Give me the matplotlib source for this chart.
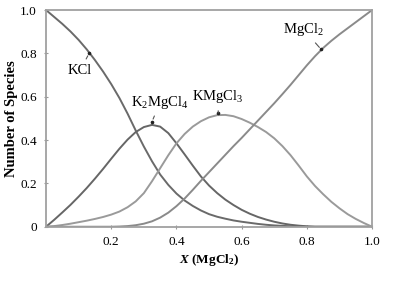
import matplotlib
matplotlib.use("Agg")
import matplotlib.pyplot as plt

plt.rcParams['font.family'] = ['Liberation Serif', 'DejaVu Serif']
plt.rcParams['mathtext.fontset'] = 'custom'
plt.rcParams['mathtext.rm'] = 'Liberation Serif'
plt.rcParams['mathtext.it'] = 'Liberation Serif:italic'
plt.rcParams['mathtext.bf'] = 'Liberation Serif:bold'
plt.rcParams['mathtext.bfit'] = 'Liberation Serif:bold:italic'

x_mgcl2 = [0.0, 0.025, 0.05, 0.075, 0.1, 0.125, 0.15, 0.175, 0.2, 0.225,
           0.25, 0.275, 0.3, 0.325, 0.35, 0.375, 0.4, 0.425, 0.45, 0.475,
           0.5, 0.525, 0.55, 0.575, 0.6, 0.625, 0.65, 0.675, 0.7, 0.725,
           0.75, 0.775, 0.8, 0.825, 0.85, 0.875, 0.9, 0.925, 0.95, 0.975, 1.0]

kcl = [1.0, 0.968, 0.936, 0.901, 0.862, 0.818, 0.769, 0.716, 0.658, 0.594,
       0.522, 0.444, 0.370, 0.302, 0.241, 0.193, 0.153, 0.121, 0.096, 0.075,
       0.058, 0.046, 0.037, 0.029, 0.023, 0.018, 0.013, 0.009, 0.006, 0.004,
       0.002, 0.001, 0.0, 0.0, 0.0, 0.0, 0.0, 0.0, 0.0, 0.0, 0.0]

k2mgcl4 = [0.0, 0.032, 0.066, 0.101, 0.139, 0.179, 0.222, 0.267, 0.314, 0.36,
           0.402, 0.437, 0.460, 0.470, 0.462, 0.432, 0.385, 0.334, 0.282, 0.232,
           0.19, 0.155, 0.125, 0.10, 0.078, 0.06, 0.045, 0.033, 0.023, 0.015,
           0.009, 0.005, 0.002, 0.0, 0.0, 0.0, 0.0, 0.0, 0.0, 0.0, 0.0]

kmgcl3 = [0.0, 0.003, 0.008, 0.014, 0.021, 0.028, 0.036, 0.045, 0.056, 0.07,
          0.09, 0.117, 0.155, 0.21, 0.27, 0.33, 0.385, 0.428, 0.462, 0.487,
          0.505, 0.515, 0.516, 0.51, 0.497, 0.48, 0.46, 0.437, 0.408, 0.372,
          0.33, 0.282, 0.232, 0.188, 0.15, 0.115, 0.085, 0.058, 0.036, 0.017, 0.0]

mgcl2 = [0.0, 0.0, 0.0, 0.0, 0.0, 0.0, 0.0, 0.0, 0.0, 0.001,
         0.003, 0.007, 0.014, 0.025, 0.042, 0.065, 0.095, 0.13, 0.17, 0.212,
         0.252, 0.292, 0.332, 0.372, 0.41, 0.45, 0.49, 0.53, 0.57, 0.612,
         0.655, 0.70, 0.745, 0.787, 0.825, 0.858, 0.888, 0.916, 0.944, 0.972, 1.0]

yticks = [0, 0.2, 0.4, 0.6, 0.8, 1.0]
ytick_labels = ['0', '0.2', '0.4', '0.6', '0.8', '1.0']
xticks = [0.2, 0.4, 0.6, 0.8, 1.0]
xtick_labels = ['0.2', '0.4', '0.6', '0.8', '1.0']

fig = plt.figure(figsize=(4.04, 2.87), dpi=100)
ax = fig.add_axes([0.114, 0.21, 0.807, 0.755])

line_kw = dict(lw=1.4, solid_joinstyle='round', solid_capstyle='round')
ax.plot(x_mgcl2, kcl, color='#6a6a6a', **line_kw)
ax.plot(x_mgcl2, k2mgcl4, color='#666666', **line_kw)
ax.plot(x_mgcl2, kmgcl3, color='#9a9a9a', **line_kw)
ax.plot(x_mgcl2, mgcl2, color='#8a8a8a', **line_kw)

ax.set_xlim(0, 1)
ax.set_ylim(0, 1)
ax.set_xticks(xticks)
ax.set_xticklabels(xtick_labels)
ax.set_yticks(yticks)
ax.set_yticklabels(ytick_labels)
ax.tick_params(direction='inout', length=3, width=0.8, color='#999999',
               labelsize=9.5, pad=5)
for s in ax.spines.values():
    s.set_color('#a0a0a0')
    s.set_linewidth(1.3)

ax.set_ylabel('Number of Species', fontsize=10.5, fontweight='bold', labelpad=2)
ax.set_xlabel(r'$\mathbfit{X}$ (MgCl$_\mathbf{2}$)', fontsize=9.5,
              fontweight='bold', labelpad=3)

arrow = dict(arrowstyle='-', color='#555555', lw=0.8)
ann_fs = 10.5
def label(text, xy, xytext):
    ax.annotate(text, xy=xy, xytext=xytext, fontsize=ann_fs, ha='center',
                va='center', arrowprops=arrow)
    ax.plot([xy[0]], [xy[1]], marker='o', ms=1.6, color='#222222')

label('KCl', (0.132, 0.80), (0.104, 0.72))
label(r'K$_2$MgCl$_4$', (0.325, 0.485), (0.35, 0.575))
label(r'KMgCl$_3$', (0.528, 0.525), (0.528, 0.60))
label(r'MgCl$_2$', (0.844, 0.818), (0.79, 0.91))

fig.savefig('out.png', dpi=100)
